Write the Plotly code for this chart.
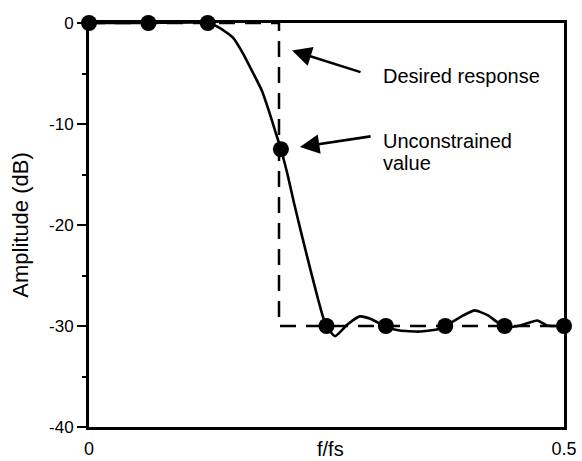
import plotly.graph_objects as go

# Sampled design points (frequency-sampling filter)
sample_f = [0, 0.0625, 0.125, 0.202, 0.25, 0.3125, 0.375, 0.4375, 0.5]
sample_db = [0, 0, 0, -12.5, -30, -30, -30, -30, -30]

# Interpolated amplitude response of the resulting filter
resp_f = [0, 0.0625, 0.125, 0.138, 0.152, 0.162, 0.173, 0.182, 0.189, 0.196,
          0.202, 0.209, 0.216, 0.224, 0.233, 0.241, 0.246, 0.25, 0.259, 0.272,
          0.285, 0.298, 0.3125, 0.327, 0.348, 0.366, 0.375, 0.394, 0.406,
          0.42, 0.4375, 0.454, 0.472, 0.482, 0.5]
resp_db = [0, 0, 0, -0.5, -1.5, -3.0, -5.0, -6.7, -8.6, -10.7,
           -12.5, -15.0, -17.9, -21.0, -24.4, -27.3, -29.0, -30.0, -31.0, -29.85,
           -29.05, -29.35, -30.1, -30.45, -30.55, -30.35, -30.0, -28.95, -28.45,
           -28.95, -30.1, -29.95, -29.45, -29.95, -30.0]

# Ideal (desired) response
desired_f = [0, 0.2, 0.2, 0.5]
desired_db = [0, 0, -30, -30]

y_ticks = [0, -10, -20, -30, -40]
y_tick_text = ["0", "-10", "-20", "-30", "-40"]
x_ticks = [0, 0.5]
x_tick_text = ["0", "0.5"]

FONT = "Liberation Sans, Arial, Helvetica, sans-serif"

fig = go.Figure()

fig.add_trace(go.Scatter(
    x=desired_f, y=desired_db, mode="lines",
    line=dict(color="black", width=2.5, dash="16px,10px"),
    hoverinfo="skip", showlegend=False, cliponaxis=False,
))
fig.add_trace(go.Scatter(
    x=resp_f, y=resp_db, mode="lines",
    line=dict(color="black", width=2.6, shape="spline", smoothing=0.5),
    showlegend=False, cliponaxis=False,
))
fig.add_trace(go.Scatter(
    x=sample_f, y=sample_db, mode="markers",
    marker=dict(color="black", size=16),
    showlegend=False, cliponaxis=False,
))

annotations = [
    # arrows
    dict(x=0.2137, y=-2.72, ax=0.2874, ay=-4.91, axref="x", ayref="y",
         xref="x", yref="y", text="", showarrow=True, arrowhead=2,
         arrowsize=1.5, arrowwidth=2.6, arrowcolor="black"),
    dict(x=0.222, y=-12.28, ax=0.298, ay=-11.2, axref="x", ayref="y",
         xref="x", yref="y", text="", showarrow=True, arrowhead=2,
         arrowsize=1.5, arrowwidth=2.6, arrowcolor="black"),
    # labels
    dict(x=0.3074, y=-5.2, xref="x", yref="y", text="Desired response",
         showarrow=False, xanchor="left", yanchor="middle",
         font=dict(family=FONT, size=20, color="black")),
    dict(x=0.3074, y=-11.7, xref="x", yref="y", text="Unconstrained",
         showarrow=False, xanchor="left", yanchor="middle",
         font=dict(family=FONT, size=20, color="black")),
    dict(x=0.3074, y=-13.9, xref="x", yref="y", text="value",
         showarrow=False, xanchor="left", yanchor="middle",
         font=dict(family=FONT, size=20, color="black")),
    # x axis title
    dict(x=0.2547, y=0, xref="x", yref="paper", yshift=-22, text="f/fs",
         showarrow=False, xanchor="center", yanchor="middle",
         font=dict(family=FONT, size=20, color="black")),
]

fig.update_layout(
    width=582, height=461,
    margin=dict(l=89, r=18, t=23, b=34),
    paper_bgcolor="white", plot_bgcolor="white",
    font=dict(family=FONT, color="black"),
    annotations=annotations,
    xaxis=dict(
        range=[0, 0.5], tickvals=x_ticks, ticktext=x_tick_text,
        ticks="", showgrid=False, zeroline=False, ticklabelstandoff=3,
        automargin=False,
        showline=True, linecolor="black", linewidth=3, mirror=True,
        tickfont=dict(size=18, family=FONT, color="black"),
    ),
    yaxis=dict(
        range=[-40, 0], tickvals=y_ticks, ticktext=y_tick_text,
        ticks="outside", ticklen=9, tickwidth=2, tickcolor="black",
        minor=dict(ticks="outside", ticklen=4, tickwidth=2, tickcolor="black", dtick=5),
        showgrid=False, zeroline=False, automargin=False,
        showline=True, linecolor="black", linewidth=3, mirror=True,
        tickfont=dict(size=17, family=FONT, color="black"),
        title=dict(text="Amplitude (dB)", standoff=15,
                   font=dict(size=22, family=FONT, color="black")),
    ),
)

fig.write_html("out.html")
